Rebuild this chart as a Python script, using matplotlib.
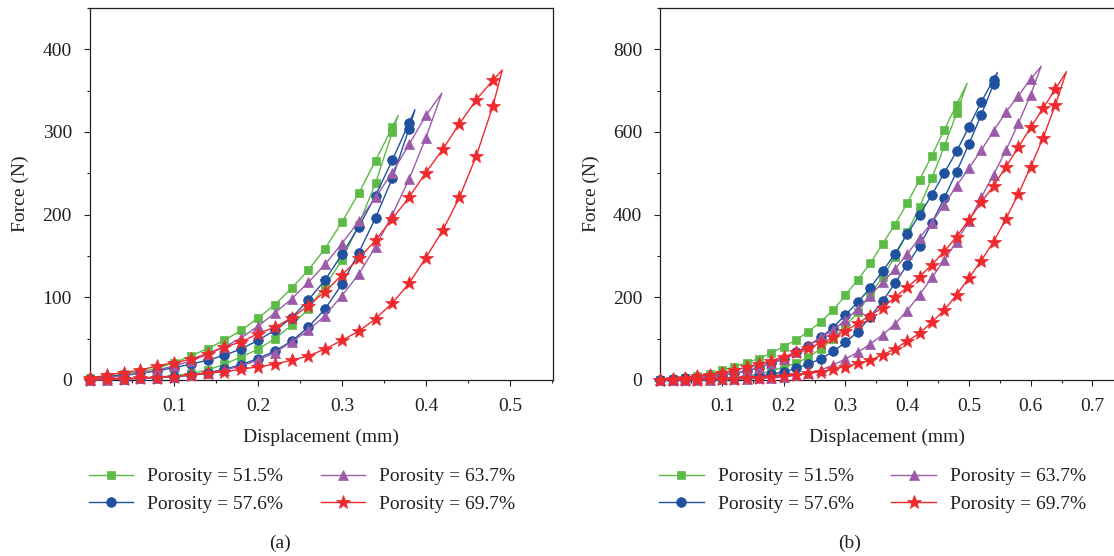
import numpy as np
import matplotlib
matplotlib.use("Agg")
import matplotlib.pyplot as plt
from matplotlib.ticker import MultipleLocator, FixedLocator

plt.rcParams['font.family'] = ['Liberation Serif', 'DejaVu Serif']
plt.rcParams['font.size'] = 14
plt.rcParams['text.color'] = '#231f20'
plt.rcParams['axes.labelcolor'] = '#231f20'
plt.rcParams['xtick.color'] = '#231f20'
plt.rcParams['ytick.color'] = '#231f20'

labels = ["Porosity = 51.5%", "Porosity = 57.6%", "Porosity = 63.7%", "Porosity = 69.7%"]
colors = ["#5cba47", "#1f519f", "#9c5ba8", "#ee2a2e"]
markers = ["s", "o", "^", "*"]
msizes = [6, 7, 7.5, 10]

disp = [0.00, 0.02, 0.04, 0.06, 0.08, 0.10, 0.12, 0.14, 0.16, 0.18, 0.20,
        0.22, 0.24, 0.26, 0.28, 0.30, 0.32, 0.34, 0.36, 0.38, 0.40, 0.42,
        0.44, 0.46, 0.48, 0.50, 0.52, 0.54, 0.56, 0.58, 0.60, 0.62, 0.64]

# panel (a): upper and lower branches of each loop, plus the turning point
a_upper = [
    [2, 4, 7, 10, 14, 21, 29, 38, 48, 60, 75, 91, 111, 133, 159, 191, 226, 265, 306],
    [1, 4, 6, 8, 11, 15, 19, 24, 30, 37.5, 48, 60, 75, 97, 121, 152, 185, 223, 266, 311],
    [1, 3, 5, 8, 12, 17, 23, 31, 40, 51, 65, 81, 98, 118, 140, 165, 192, 221, 251, 285, 320],
    [2, 6, 9, 12, 17, 21, 25, 32, 40, 46, 56, 64, 75, 90, 107, 127, 147, 169, 195, 221, 251,
     279, 310, 339, 363],
]
a_lower = [
    [0, 1, 1.5, 2.5, 3.5, 5, 8, 12, 19, 28, 37, 50, 66, 86, 114, 145, 188, 238, 300],
    [0, 1, 1.5, 2, 3, 4, 6, 9, 13, 18.5, 26, 35, 47, 64, 86, 116, 154, 196, 244, 304],
    [0, 0.5, 1, 2, 3, 4, 5.5, 8, 12, 17, 24, 33, 46, 60, 78, 102, 128, 161, 200, 243, 293],
    [0, 1, 1.5, 2, 3, 4, 6, 8, 10, 13, 16, 19, 24, 29, 37.5, 48, 59, 74, 93, 117, 148, 181,
     221, 271, 332],
]
a_peak_x = [0.367, 0.387, 0.419, 0.491]
a_peak_y = [320, 327, 347, 375]

# panel (b)
b_upper = [
    [1, 3, 6, 9, 14, 24, 32, 42, 52, 66, 81, 97, 117, 141, 169, 205, 243, 282, 329, 376,
     428, 484, 543, 605, 666],
    [1, 2, 4, 6, 8, 12, 16, 22, 30, 40, 51, 67, 83, 103, 127, 158, 188, 223, 263, 305, 353,
     400, 448, 501, 553, 613, 673, 727],
    [1, 2, 3, 5, 8, 11, 16, 22, 30, 40, 52, 67, 83, 103, 121, 145, 172, 204, 236, 268, 305,
     344, 381, 424, 470, 513, 556, 603, 648, 688, 728],
    [1, 3, 6, 9, 13, 18, 24, 31, 39, 47, 56, 67, 78, 89, 103, 119, 137, 156, 175, 200, 224,
     250, 279, 311, 347, 387, 430, 470, 516, 563, 611, 657, 704],
]
b_lower = [
    [0, 0.5, 1, 2, 3, 5, 7, 10, 15, 22, 31, 40, 56, 75, 99, 131, 164, 208, 248, 298, 357,
     418, 489, 565, 645],
    [0, 0.5, 1, 1.5, 2.5, 3.5, 5, 7, 10, 14, 20, 28, 39, 51, 69, 91, 117, 153, 190, 234,
     279, 325, 380, 440, 504, 571, 642, 716],
    [0, 0, 0.5, 1, 1, 1.5, 2, 3, 4, 5, 7, 11, 16, 24, 36, 51, 67, 87, 109, 135, 168, 206,
     248, 290, 335, 384, 442, 497, 556, 621, 690],
    [0, 0, 0.5, 1, 1.5, 2, 3, 4, 6, 8, 10, 13, 16, 20, 27, 32, 40, 48, 61, 75, 94, 113, 140,
     169, 206, 247, 289, 335, 390, 450, 516, 585, 666],
]
b_peak_x = [0.497, 0.546, 0.617, 0.658]
b_peak_y = [718, 744, 759, 746]

fig = plt.figure(figsize=(11.14, 5.56), dpi=100)
ax_a = fig.add_axes([90 / 1114, 1 - 380 / 556, 462.7 / 1114, 372 / 556])
ax_b = fig.add_axes([660.3 / 1114, 1 - 380 / 556, 453.7 / 1114, 372 / 556])


def draw(ax, upper, lower, px, py):
    for i in range(4):
        n = len(upper[i])
        xs = disp[:n] + [px[i]] + disp[:n][::-1]
        ys = upper[i] + [py[i]] + lower[i][::-1]
        mk = list(range(n)) + list(range(n + 1, 2 * n + 1))
        ax.plot(xs, ys, color=colors[i], lw=1.0, marker=markers[i], ms=msizes[i],
                markevery=mk, mec=colors[i], mew=0.5, clip_on=False,
                label=labels[i], zorder=3 + i * 0.1)


def style(ax, xmax, ymax, xticks, ymaj, ymin_step):
    ax.set_xlim(0, xmax)
    ax.set_ylim(0, ymax)
    ax.xaxis.set_major_locator(FixedLocator(xticks))
    ax.xaxis.set_minor_locator(MultipleLocator(0.05))
    ax.yaxis.set_major_locator(MultipleLocator(ymaj))
    ax.yaxis.set_minor_locator(MultipleLocator(ymin_step))
    ax.tick_params(which='major', direction='out', length=4, width=0.8, pad=9)
    ax.tick_params(which='minor', direction='out', length=2.4, width=0.8)
    for s in ax.spines.values():
        s.set_linewidth(0.9)
        s.set_color('#231f20')
    ax.set_xlabel("Displacement (mm)")
    ax.set_ylabel("Force (N)")
    ax.xaxis.set_label_coords(0.5, -0.153)
    ax.xaxis.label.set_va('center')
    ax.yaxis.set_label_coords(-0.151, 0.5)
    ax.yaxis.label.set_va('center')
    ax.legend(ncol=2, loc='upper left', bbox_to_anchor=(-0.002, -0.236),
              frameon=False, borderpad=0, borderaxespad=0, handlelength=2.27,
              handletextpad=0.72, columnspacing=1.95, labelspacing=0.5)


draw(ax_a, a_upper, a_lower, a_peak_x, a_peak_y)
style(ax_a, 0.551, 450, [0.1, 0.2, 0.3, 0.4, 0.5], 100, 50)

draw(ax_b, b_upper, b_lower, b_peak_x, b_peak_y)
style(ax_b, 0.735, 900, [0.1, 0.2, 0.3, 0.4, 0.5, 0.6, 0.7], 200, 100)
ax_b.spines['right'].set_visible(False)

fig.text(280 / 1114, 1 - 543 / 556, "(a)", ha='center', va='center')
fig.text(850 / 1114, 1 - 543 / 556, "(b)", ha='center', va='center')

fig.savefig("out.png", dpi=100)
